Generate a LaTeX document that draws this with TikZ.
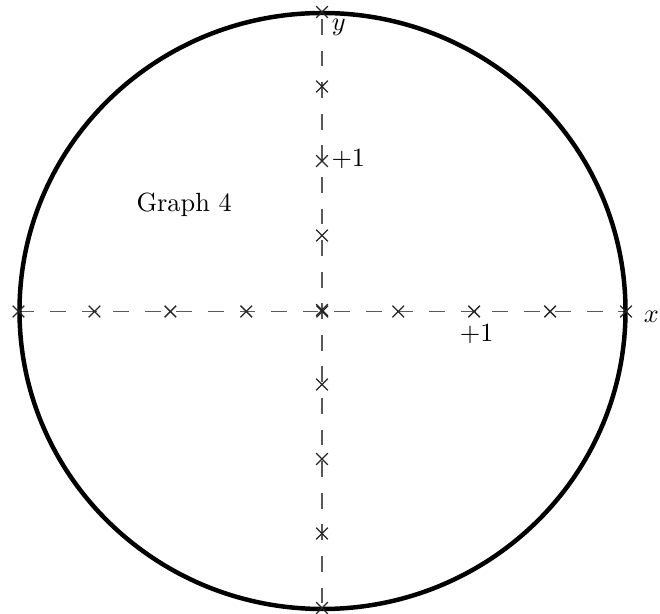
\documentclass[tikz,border=0pt]{standalone}
\usetikzlibrary{shapes.misc}
\begin{document}
\begin{tikzpicture}[x=0.38pt,y=-0.38pt,
  axisline/.style={draw=black!65,line width=0.6pt,dash pattern=on 6pt off 6pt},
  tickmark/.style={cross out,draw=black!85,line width=0.5pt,minimum size=4.4pt,inner sep=0pt,outer sep=0pt},
  lbl/.style={anchor=base west,inner sep=0pt,outer sep=0pt},
  rim/.style={draw=black,line width=1.7pt}]
\useasboundingbox (0,0) rectangle (660,614);
% axes
\coordinate (xl) at (18.5,311.5);
\coordinate (xr) at (626,311.5);
\coordinate (yt) at (322,12);
\coordinate (yb) at (322,608);
\draw[axisline] (xl) -- (xr);
\draw[axisline,dash phase=9.3pt] (yt) -- (yb);
% outer curve
\draw[rim] (322.5,311) ellipse [x radius=303, y radius=298];
% ticks
\foreach \k in {0,...,8}{
  \node[tickmark] (tx\k) at ({18.5+75.94*\k},311.5) {};
  \node[tickmark] (ty\k) at (322,{12+74.5*\k}) {};
}
% labels
\node[lbl] (ylab) at (332,31) {$y$};
\node[lbl] (xlab) at (644,323) {$x$};
\node[lbl] (yone) at (331.5,167) {$+1$};
\node[lbl] (xone) at (460,342) {$+1$};
\node[lbl] (title) at (136.5,212) {Graph 4};
\end{tikzpicture}
\end{document}
